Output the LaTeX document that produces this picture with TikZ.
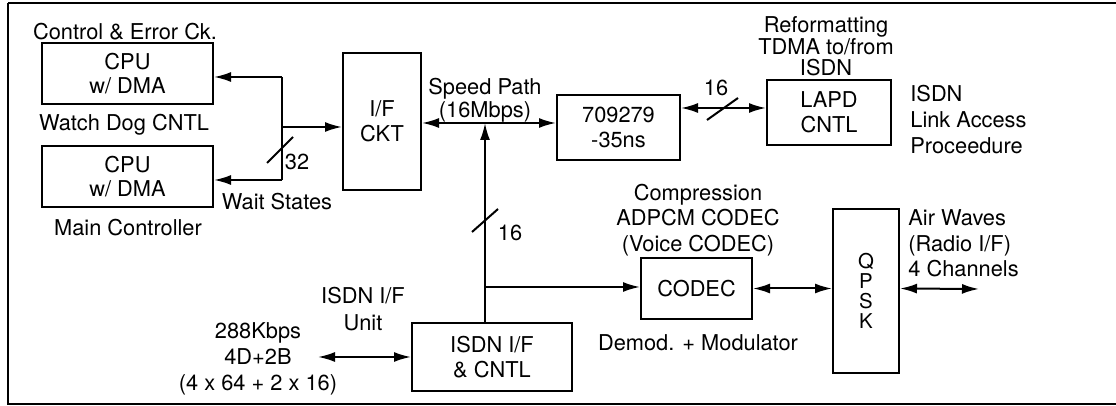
\documentclass[tikz,border=0pt]{standalone}
\usepackage{fontspec}
\setmainfont{TeX Gyre Heros}
\usetikzlibrary{arrows.meta,positioning}

\tikzset{
  blk/.style={draw, line width=1pt, align=center, inner sep=0pt},
  lbl/.style={align=center, inner sep=0pt},
  conn/.style={line width=1pt},
  oneway/.style={conn, -{Latex[length=8.5pt,width=5pt]}},
  bidir/.style={conn, {Latex[length=8.5pt,width=5pt]}-{Latex[length=8.5pt,width=5pt]}},
}

\begin{document}
\begin{tikzpicture}[x=0.5pt, y=-0.5pt, font=\fontsize{10.9}{12.4}\selectfont]
    \useasboundingbox (0,0) rectangle (1116,406);
    % frame
    \draw[line width=1.2pt] (1116,3) -- (8,3);
    \draw[line width=0.8pt] (8,3) -- (8,404) -- (1116,404);

    % blocks
    \node[blk, minimum width=85.5pt, minimum height=30.5pt] (cpuA) at (127.5,73.5) {CPU\\w/ DMA};
    \node[blk, minimum width=85.5pt, minimum height=30.5pt] (cpuB) at (127.5,176.5) {CPU\\w/ DMA};
    \node[blk, minimum width=39pt, minimum height=68.5pt] (ifckt) at (382,121.5) {I/F\\CKT};
    \node[blk, minimum width=61.5pt, minimum height=32.5pt] (buf) at (618.5,127.5) {709279\\-35ns};
    \node[blk, minimum width=62pt, minimum height=32.5pt] (lapd) at (829,112.5) {LAPD\\CNTL};
    \node[blk, minimum width=80pt, minimum height=34pt] (isdn) at (492,357) {ISDN I/F\\\& CNTL};
    \node[blk, minimum width=55.5pt, minimum height=30.5pt] (codec) at (696.5,288.5) {CODEC};
    \node[blk, minimum width=33pt, minimum height=82pt,
          font=\fontsize{10.2}{10}\selectfont] (qpsk) at (866,291) {Q\\P\\S\\K};

    % junctions
    \coordinate (busT) at (282,77);
    \coordinate (busM) at (282,127);
    \coordinate (busB) at (282,180);
    \coordinate (jn) at (485,123);
    \coordinate (br) at (485,287);
    \coordinate (lk) at (720,108);
    \coordinate (ext) at (318,357);
    \coordinate (air) at (979,289);

    % connectors
    \draw[conn] (busT) -- (busB);
    \draw[oneway] (busT) -- (cpuA.east |- busT);
    \draw[oneway] (busB) -- (cpuB.east |- busB);
    \draw[oneway] (busM) -- (ifckt.west |- busM);
    \draw[conn] (267,163) -- (293,137);
    \draw[bidir] (ifckt.east |- jn) -- (buf.west |- jn);
    \draw[oneway] (jn |- isdn.north) -- (jn);
    \draw[conn] (472,232) -- (498,209);
    \draw[oneway] (br) -- (codec.west |- br);
    \draw[bidir] (buf.east |- lk) -- (lapd.west |- lk);
    \draw[conn] (707,120) -- (738,98);
    \draw[bidir] (codec.east) -- (qpsk.west |- codec.east);
    \draw[bidir] (qpsk.east |- codec.east) -- (air);
    \draw[bidir] (ext) -- (isdn.west);

    % labels
    \node[lbl] (ctl) at (125,32) {Control \& Error Ck.};
    \node[lbl] (wdog) at (124,125) {Watch Dog CNTL};
    \node[lbl] (mainc) at (128,228) {Main Controller};
    \node[lbl] (wait) at (277,202) {Wait States};
    \node[lbl] (w32) at (297,162) {32};
    \node[lbl, font=\fontsize{10.9}{11.5}\selectfont] (spd) at (485,100) {Speed Path\\(16Mbps)};
    \node[lbl] (w16a) at (510,233) {16};
    \node[lbl] (w16b) at (716,88) {16};
    \node[lbl, font=\fontsize{10.9}{10.8}\selectfont] (refmt) at (826,46.5) {Reformatting\\TDMA to/from\\ISDN};
    \node[lbl, anchor=west, align=left, font=\fontsize{10.9}{12.8}\selectfont] (lnk) at (910,119.5) {ISDN\\Link Access\\Proceedure};
    \node[lbl, font=\fontsize{10.9}{12.8}\selectfont] (comp) at (698,220) {Compression\\ADPCM CODEC\\(Voice CODEC)};
    \node[lbl] (demod) at (698,343) {Demod. + Modulator};
    \node[lbl, anchor=west, align=left, font=\fontsize{10.9}{12.8}\selectfont] (waves) at (908,243.5) {Air Waves\\(Radio I/F)\\4 Channels};
    \node[lbl, font=\fontsize{10.9}{13.5}\selectfont] (unit) at (363,309.5) {ISDN I/F\\Unit};
    \node[lbl, font=\fontsize{10.9}{13}\selectfont] (rate) at (258,359) {288Kbps\\4D+2B\\(4 x 64 + 2 x 16)};
\end{tikzpicture}
\end{document}
